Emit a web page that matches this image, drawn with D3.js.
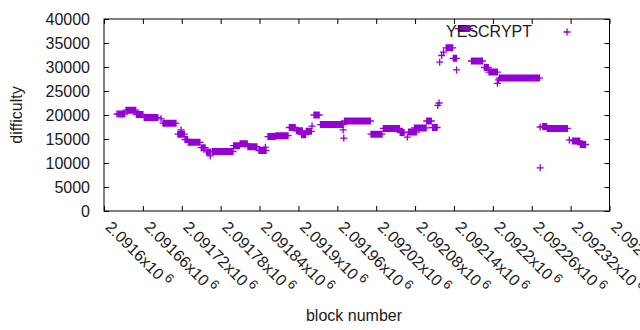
<!DOCTYPE html>
<html>
<head>
<meta charset="utf-8">
<script src="https://cdn.jsdelivr.net/npm/d3@7"></script>
<style>
    body { margin: 0; background: #fff; }
    text { font-family: "Liberation Sans", Arial, sans-serif; fill: #1a1a1a; }
</style>
</head>
<body>
<svg id="chart" width="640" height="330"></svg>
<script>
// difficulty stays flat over runs of blocks: first block, last block, difficulty
var runStart = [2091620, 2091622, 2091634, 2091650, 2091662, 2091688, 2091691, 2091719, 2091714, 2091725,
    2091730, 2091750, 2091758, 2091764, 2091767, 2091800, 2091810, 2091822, 2091839, 2091849,
    2091853, 2091865, 2091886, 2091897, 2091905, 2091912, 2091921, 2091924, 2091934, 2091969,
    2091970, 2091971, 2092012, 2092031, 2092057, 2092068, 2092070, 2092079, 2092098, 2092107,
    2092115, 2092117, 2092118, 2092121, 2092124, 2092128, 2092139, 2092144, 2092147, 2092167,
    2092187, 2092194, 2092207, 2092209, 2092210, 2092273, 2092273, 2092277, 2092284, 2092318,
    2092323, 2092335];
var runEnd = [2091620, 2091632, 2091649, 2091660, 2091683, 2091688, 2091711, 2091719, 2091724, 2091729,
    2091748, 2091756, 2091764, 2091764, 2091799, 2091809, 2091821, 2091836, 2091850, 2091849,
    2091864, 2091884, 2091895, 2091906, 2091911, 2091920, 2091921, 2091932, 2091969, 2091969,
    2091970, 2092011, 2092029, 2092056, 2092063, 2092068, 2092082, 2092097, 2092105, 2092114,
    2092115, 2092117, 2092118, 2092121, 2092124, 2092138, 2092144, 2092144, 2092164, 2092184,
    2092193, 2092207, 2092207, 2092209, 2092272, 2092273, 2092273, 2092283, 2092315, 2092318,
    2092334, 2092343];
var runDiff = [20200, 20200, 21000, 20100, 19500, 19200, 18300, 16900, 16000, 14900,
    14300, 13200, 12300, 11500, 12400, 13600, 14000, 13400, 12600, 13300,
    15500, 15700, 17400, 16700, 15900, 16600, 17700, 20000, 18000, 16900,
    15200, 18750, 16000, 17200, 16350, 15400, 16450, 17300, 18750, 17400,
    22000, 22500, 31000, 32400, 33100, 34000, 31800, 29400, 38000, 31250,
    29900, 28950, 26600, 27300, 27700, 9000, 17500, 17600, 17200, 14800,
    14600, 13850];

var xTicks = [2091600, 2091660, 2091720, 2091780, 2091840, 2091900, 2091960,
    2092020, 2092080, 2092140, 2092200, 2092260, 2092320, 2092380];
var xTickLabels = ['2.0916', '2.09166', '2.09172', '2.09178', '2.09184', '2.0919', '2.09196',
    '2.09202', '2.09208', '2.09214', '2.0922', '2.09226', '2.09232', '2.09238'];
var yTicks = [0, 5000, 10000, 15000, 20000, 25000, 30000, 35000, 40000];

var seriesName = 'YESCRYPT';
var color = '#9400d3';

var plotL = 104, plotR = 609.5, plotT = 19, plotB = 211;
var svg = d3.select('#chart');

var x = d3.scaleLinear().domain([xTicks[0], xTicks[xTicks.length - 1]]).range([plotL, plotR]);
var y = d3.scaleLinear().domain([0, 40000]).range([plotB, plotT]);

function cross(cx, cy) {
    return 'M' + (cx - 3.5) + ',' + cy + 'h7M' + cx + ',' + (cy - 3.5) + 'v7';
}

// points, one cross per block
svg.append('g').selectAll('path')
    .data(runStart.map(function (s, i) { return { s: s, e: runEnd[i], d: runDiff[i] }; }))
    .enter().append('path')
    .attr('fill', 'none')
    .attr('stroke', color)
    .attr('stroke-width', 1.3)
    .attr('d', function (r) {
        return d3.range(r.s, r.e + 1).map(function (b) { return cross(x(b), y(r.d)); }).join('');
    });

// bottom axis with rotated labels
var xAxis = svg.append('g')
    .attr('transform', 'translate(0,' + plotB + ')')
    .call(d3.axisBottom(x).tickValues(xTicks).tickSizeInner(-5).tickSizeOuter(0));
xAxis.selectAll('text').each(function (d, i) {
    var t = d3.select(this).text(null)
        .attr('x', 0).attr('y', 0).attr('dy', null)
        .attr('text-anchor', 'start')
        .attr('transform', 'translate(0,17) rotate(45)')
        .style('font-size', '16px');
    t.append('tspan').text(xTickLabels[i] + 'x10');
    t.append('tspan').attr('dx', 3).attr('dy', -6).style('font-size', '13px').text('6');
});

var yAxis = svg.append('g')
    .attr('transform', 'translate(' + plotL + ',0)')
    .call(d3.axisLeft(y).tickValues(yTicks).tickFormat(d3.format('d'))
        .tickSizeInner(-5).tickSizeOuter(0).tickPadding(14));
yAxis.selectAll('text').style('font-size', '16px');

// mirrored ticks on top and right
svg.append('g')
    .attr('transform', 'translate(0,' + plotT + ')')
    .call(d3.axisTop(x).tickValues(xTicks).tickSizeInner(-5).tickSizeOuter(0).tickFormat(''));
svg.append('g')
    .attr('transform', 'translate(' + plotR + ',0)')
    .call(d3.axisRight(y).tickValues(yTicks).tickSizeInner(-5).tickSizeOuter(0).tickFormat(''));

svg.selectAll('.domain').remove();
svg.selectAll('.tick line').attr('stroke', '#000');

svg.append('rect')
    .attr('x', plotL).attr('y', plotT)
    .attr('width', plotR - plotL).attr('height', plotB - plotT)
    .attr('fill', 'none').attr('stroke', '#000').attr('stroke-width', 1);

// axis titles
svg.append('text')
    .attr('transform', 'translate(22,115) rotate(-90)')
    .attr('text-anchor', 'middle')
    .style('font-size', '16px')
    .text('difficulty');
svg.append('text')
    .attr('x', 354).attr('y', 321)
    .attr('text-anchor', 'middle')
    .style('font-size', '16px')
    .text('block number');

// key
svg.append('text')
    .attr('x', 532).attr('y', 37)
    .attr('text-anchor', 'end')
    .style('font-size', '16px')
    .text(seriesName);
svg.append('path')
    .attr('fill', 'none')
    .attr('stroke', color)
    .attr('stroke-width', 1.3)
    .attr('d', cross(567, 32));
</script>
</body>
</html>
